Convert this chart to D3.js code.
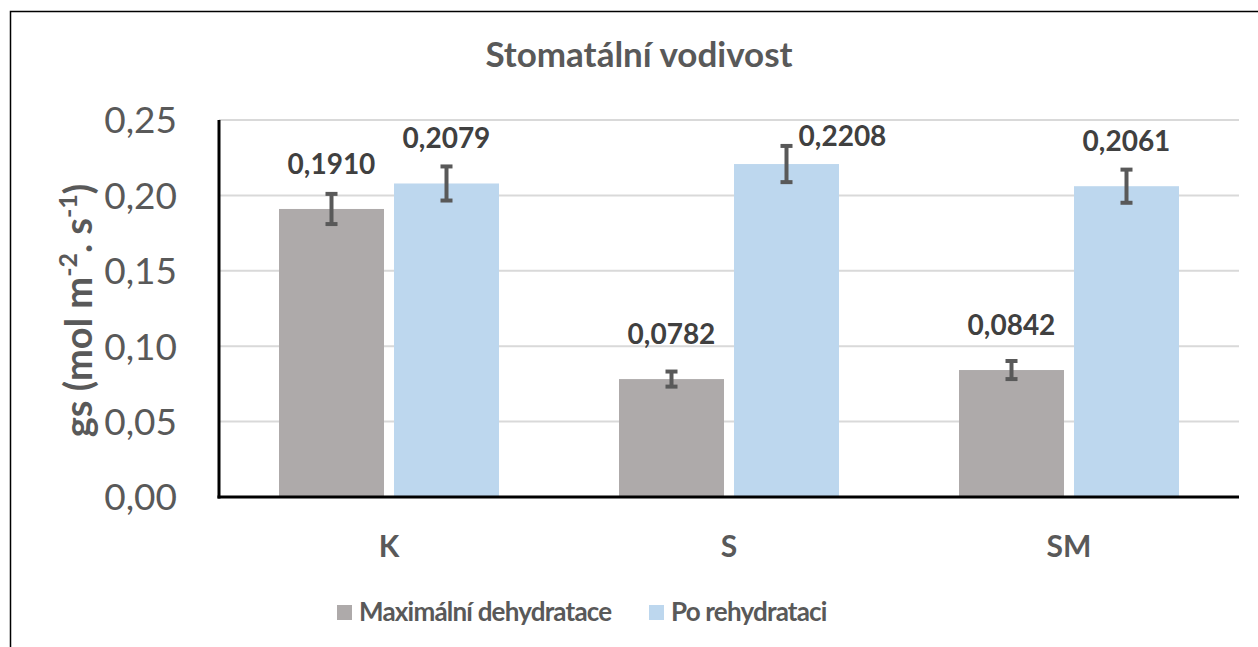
<!DOCTYPE html>
<html>
<head>
<meta charset="utf-8">
<script src="https://cdn.jsdelivr.net/npm/d3@7"></script>
<style>
  body { margin: 0; background: #fff; }
  text { font-family: Lato, "Open Sans", sans-serif; }
</style>
</head>
<body>
<div id="chart"></div>
<script>
/**
 * Chart data.
 */
var CATEGORIES = ["K", "S", "SM"];
var SERIES = ["Maximální dehydratace", "Po rehydrataci"];
var DEHYDRATION = [0.1910, 0.0782, 0.0842];
var REHYDRATION = [0.2079, 0.2208, 0.2061];
var DEHYDRATION_ERR = [0.010, 0.005, 0.006];
var REHYDRATION_ERR = [0.0113, 0.012, 0.011];
var Y_TICKS = [0, 0.05, 0.10, 0.15, 0.20, 0.25];

var WIDTH = 1258, HEIGHT = 647;
var COLORS = ["#AEAAAA", "#BDD7EE"];
var TEXT = "#595959";

/**
 * Plot area.
 */
var PLOT = {left: 219, right: 1239, top: 120, bottom: 497};

var SVG = d3.select("#chart").append("svg")
    .attr("width", WIDTH)
    .attr("height", HEIGHT);

// outer chart border (right and bottom edges fall outside the picture)
SVG.append("rect")
    .attr("x", 10.5).attr("y", 11.5)
    .attr("width", WIDTH + 20).attr("height", HEIGHT + 20)
    .attr("fill", "#fff").attr("stroke", "#000").attr("stroke-width", 1.5);

var x = d3.scaleBand().domain(CATEGORIES).range([PLOT.left, PLOT.right]);
var xs = d3.scaleBand().domain([0, 1]).range([0, 220]).paddingInner(10 / 115);
var y = d3.scaleLinear().domain([0, 0.25]).range([PLOT.bottom, PLOT.top]);

var LAYER_GRID = SVG.append("g");
var LAYER_BARS = SVG.append("g");
var LAYER_AXES = SVG.append("g");
var LAYER_TEXT = SVG.append("g");

/**
 * Gridlines and y tick labels.
 */
LAYER_GRID.selectAll("line").data(Y_TICKS.slice(1)).enter().append("line")
    .attr("x1", PLOT.left).attr("x2", PLOT.right)
    .attr("y1", function (d) { return y(d); }).attr("y2", function (d) { return y(d); })
    .attr("stroke", "#D9D9D9").attr("stroke-width", 2);

var fmt = function (d, n) { return d.toFixed(n).replace(".", ","); };

LAYER_TEXT.selectAll("text.tick").data(Y_TICKS).enter().append("text")
    .attr("class", "tick")
    .attr("x", 177).attr("y", function (d) { return y(d); })
    .attr("dy", "0.36em")
    .attr("text-anchor", "end")
    .attr("font-size", 37)
    .attr("fill", TEXT)
    .text(function (d) { return fmt(d, 2); });

/**
 * Bars, error bars and value labels.
 */
var rows = [];
CATEGORIES.forEach(function (c, i) {
    rows.push({cat: c, s: 0, v: DEHYDRATION[i], e: DEHYDRATION_ERR[i]});
    rows.push({cat: c, s: 1, v: REHYDRATION[i], e: REHYDRATION_ERR[i]});
});
var groupOffset = (x.bandwidth() - 220) / 2;
function cx(d) { return x(d.cat) + groupOffset + xs(d.s) + xs.bandwidth() / 2; }

LAYER_BARS.selectAll("rect").data(rows).enter().append("rect")
    .attr("x", function (d) { return x(d.cat) + groupOffset + xs(d.s); })
    .attr("width", xs.bandwidth())
    .attr("y", function (d) { return y(d.v); })
    .attr("height", function (d) { return y(0) - y(d.v); })
    .attr("fill", function (d) { return COLORS[d.s]; });

var err = LAYER_BARS.selectAll("g.err").data(rows).enter().append("g").attr("class", "err")
    .attr("stroke", "#595959").attr("stroke-width", 4);
err.append("line")
    .attr("x1", cx).attr("x2", cx)
    .attr("y1", function (d) { return y(d.v + d.e); })
    .attr("y2", function (d) { return y(d.v - d.e); });
[1, -1].forEach(function (sign) {
    err.append("line")
        .attr("x1", function (d) { return cx(d) - 6; })
        .attr("x2", function (d) { return cx(d) + 6; })
        .attr("y1", function (d) { return y(d.v + sign * d.e); })
        .attr("y2", function (d) { return y(d.v + sign * d.e); });
});

// one label was dragged aside in the original chart
var LABEL_NUDGE = {"S1": [56, 17]};
LAYER_TEXT.selectAll("text.val").data(rows).enter().append("text")
    .attr("class", "val")
    .attr("x", function (d) { var n = LABEL_NUDGE[d.cat + d.s]; return cx(d) + (n ? n[0] : 0); })
    .attr("y", function (d) { var n = LABEL_NUDGE[d.cat + d.s]; return y(d.v) - 35 + (n ? n[1] : 0); })
    .attr("text-anchor", "middle")
    .attr("font-size", 28).attr("font-weight", "bold")
    .attr("fill", "#404040")
    .text(function (d) { return fmt(d.v, 4); });

/**
 * Axes.
 */
LAYER_AXES.append("line")
    .attr("x1", PLOT.left).attr("x2", PLOT.left)
    .attr("y1", PLOT.top).attr("y2", PLOT.bottom + 1.5)
    .attr("stroke", "#000").attr("stroke-width", 3);
LAYER_AXES.append("line")
    .attr("x1", PLOT.left - 1.5).attr("x2", PLOT.right)
    .attr("y1", PLOT.bottom).attr("y2", PLOT.bottom)
    .attr("stroke", "#000").attr("stroke-width", 3);

LAYER_TEXT.selectAll("text.cat").data(CATEGORIES).enter().append("text")
    .attr("class", "cat")
    .attr("x", function (d) { return x(d) + x.bandwidth() / 2; })
    .attr("y", 557)
    .attr("text-anchor", "middle")
    .attr("font-size", 30).attr("font-weight", "bold")
    .attr("fill", TEXT)
    .text(function (d) { return d; });

/**
 * Title and y axis title.
 */
LAYER_TEXT.append("text")
    .attr("x", 639).attr("y", 67)
    .attr("text-anchor", "middle")
    .attr("font-size", 35).attr("font-weight", "bold")
    .attr("fill", TEXT)
    .text("Stomatální vodivost");

var yTitle = LAYER_TEXT.append("text")
    .attr("transform", "translate(92," + ((PLOT.top + PLOT.bottom) / 2 + 2) + ") rotate(-90)")
    .attr("text-anchor", "middle")
    .attr("font-size", 38).attr("font-weight", "bold")
    .attr("fill", TEXT);
yTitle.append("tspan").text("gs (mol m");
yTitle.append("tspan").attr("font-size", 25).attr("dy", -15).text("-2");
yTitle.append("tspan").attr("dy", 15).text(". s");
yTitle.append("tspan").attr("font-size", 25).attr("dy", -15).text("-1");
yTitle.append("tspan").attr("dy", 15).text(")");

/**
 * Legend.
 */
var LEGEND_X = [337, 649];
var legend = LAYER_TEXT.selectAll("g.legend").data(SERIES).enter().append("g")
    .attr("class", "legend")
    .attr("transform", function (d, i) { return "translate(" + LEGEND_X[i] + ",605)"; });
legend.append("rect")
    .attr("width", 15).attr("height", 15)
    .attr("fill", function (d, i) { return COLORS[i]; });
legend.append("text")
    .attr("x", 22).attr("y", 16)
    .attr("font-size", 26).attr("font-weight", "bold")
    .attr("letter-spacing", -0.8)
    .attr("fill", TEXT)
    .text(function (d) { return d; });
</script>
</body>
</html>
